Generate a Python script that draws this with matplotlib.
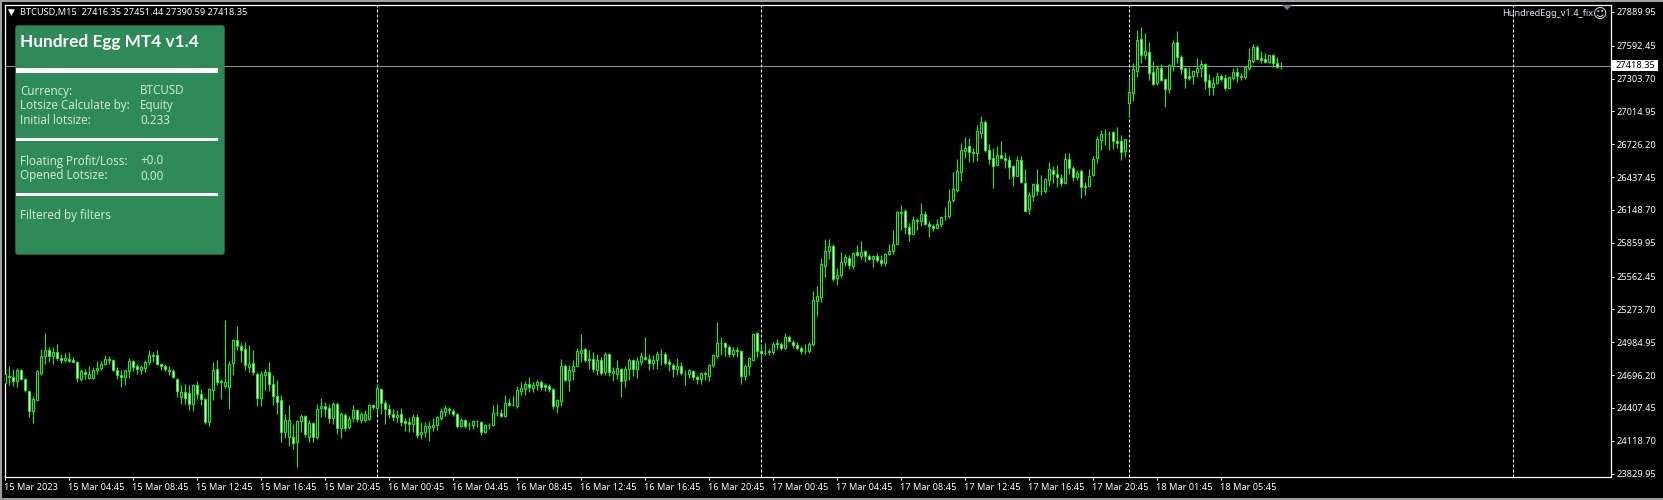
import numpy as np
import matplotlib
matplotlib.use("Agg")
import matplotlib.pyplot as plt
from matplotlib.patches import FancyBboxPatch, Rectangle
from matplotlib.transforms import ScaledTranslation

# M15 bars, one value per bar
opens = [
    24625,24690,24678,24643,24743,24661,24558,24379,24481,24713,
    24866,24919,24860,24895,24848,24831,24834,24825,24813,24666,
    24725,24672,24672,24743,24757,24796,24840,24831,24743,24693,
    24678,24734,24816,24778,24743,24757,24807,24875,24875,24796,
    24778,24743,24734,24664,24502,24549,24540,24440,24605,24531,
    24487,24282,24567,24752,24640,24596,24590,24801,25001,24954,
    24928,24766,24804,24708,24496,24696,24719,24614,24508,24473,
    24197,24156,24156,24106,24291,24338,24156,24276,24150,24405,
    24426,24408,24320,24443,24235,24349,24238,24317,24390,24305,
    24302,24308,24434,24408,24575,24452,24399,24355,24326,24355,
    24288,24282,24267,24329,24179,24194,24232,24238,24255,24317,
    24370,24402,24382,24355,24244,24297,24255,24255,24288,24282,
    24200,24255,24255,24361,24364,24335,24452,24429,24423,24555,
    24578,24619,24581,24605,24637,24611,24602,24575,24423,24467,
    24772,24652,24731,24775,24893,24925,24840,24840,24737,24825,
    24719,24884,24716,24708,24754,24649,24746,24825,24749,24813,
    24857,24837,24801,24831,24881,24884,24807,24787,24749,24778,
    24710,24705,24734,24678,24661,24716,24684,24784,24860,24978,
    24978,24942,24884,24916,24910,24684,24772,24831,25069,24910,
    24893,24895,24898,24981,24972,24931,25031,24989,24963,24934,
    24907,24907,24972,25347,25383,25656,25788,25835,25550,25576,
    25691,25729,25656,25782,25744,25791,25747,25717,25747,25712,
    25682,25761,25788,25850,26123,26143,26002,25938,26058,26052,
    26117,26029,26011,25990,26026,26096,26096,26234,26322,26484,
    26669,26707,26657,26651,26827,26918,26678,26610,26545,26628,
    26610,26592,26534,26449,26584,26390,26158,26272,26381,26319,
    26316,26413,26504,26469,26434,26387,26601,26522,26437,26487,
    26363,26360,26457,26607,26763,26813,26821,26836,26751,26751,
    26669,27091,27179,27373,27649,27514,27535,27359,27267,27394,
    27297,27215,27414,27623,27491,27394,27323,27326,27364,27400,
    27429,27288,27232,27262,27323,27306,27223,27311,27358,27323,
    27320,27400,27458,27579,27482,27473,27449,27508,27438,27416.35,
]
highs = [
    24722,24772,24752,24757,24746,24672,24560,24508,24737,24928,
    25066,24942,24942,24966,24884,24890,24898,24854,24816,24752,
    24752,24772,24766,24816,24816,24869,24860,24834,24766,24737,
    24743,24846,24831,24796,24781,24825,24913,24898,24913,24801,
    24790,24772,24752,24672,24605,24614,24605,24619,24640,24575,
    24496,24581,24810,24825,24658,25177,24819,25016,25124,24978,
    24986,24957,24919,24722,24731,24752,24810,24693,24649,24517,
    24355,24437,24267,24297,24355,24349,24297,24282,24443,24496,
    24458,24443,24458,24458,24370,24361,24340,24429,24399,24370,
    24385,24443,24443,24619,24584,24478,24443,24399,24390,24408,
    24320,24326,24355,24355,24282,24282,24291,24320,24340,24408,
    24429,24414,24399,24361,24320,24311,24282,24302,24302,24288,
    24267,24273,24429,24443,24399,24517,24493,24508,24596,24634,
    24640,24678,24634,24655,24649,24625,24614,24584,24487,24840,
    24790,24781,24825,24937,25054,24937,24913,24898,24884,24854,
    24898,24890,24766,24825,24760,24772,24848,24840,24854,24898,
    25031,24884,24869,24907,24928,24898,24840,24801,24848,24810,
    24737,24752,24743,24693,24722,24731,24796,24884,25160,25031,
    24986,24957,24942,24942,24919,24796,24854,25066,25075,24972,
    24978,24928,24986,25016,24986,25069,25045,25001,24986,24948,
    24972,24986,25433,25477,25723,25891,25891,25847,25638,25776,
    25759,25750,25782,25838,25873,25797,25759,25756,25767,25750,
    25770,25847,25970,26137,26190,26161,26032,26093,26079,26208,
    26137,26049,26023,26067,26093,26172,26331,26481,26595,26736,
    26789,26783,26698,26895,26974,26939,26727,26695,26710,26754,
    26657,26622,26542,26622,26622,26513,26310,26390,26513,26454,
    26434,26569,26534,26548,26469,26648,26648,26534,26498,26513,
    26399,26507,26622,26798,26851,26860,26842,26842,26877,26807,
    26777,27320,27438,27731,27755,27708,27629,27458,27423,27429,
    27303,27429,27643,27723,27511,27397,27408,27373,27482,27467,
    27438,27344,27320,27364,27344,27344,27326,27394,27403,27350,
    27414,27570,27605,27599,27546,27526,27511,27517,27491,27451.44,
]
lows = [
    24584,24605,24596,24590,24649,24546,24326,24273,24478,24693,
    24796,24810,24796,24825,24801,24810,24807,24807,24634,24643,
    24664,24661,24658,24708,24737,24781,24796,24731,24664,24590,
    24605,24672,24731,24702,24702,24722,24781,24810,24781,24737,
    24731,24693,24672,24502,24443,24443,24385,24379,24487,24429,
    24267,24244,24473,24605,24487,24584,24396,24693,24913,24810,
    24737,24722,24693,24420,24420,24561,24555,24437,24355,24106,
    24144,24076,24047,23885,24194,24156,24106,24106,24135,24326,
    24326,24273,24267,24179,24144,24208,24223,24282,24282,24273,
    24282,24297,24399,24355,24355,24267,24320,24291,24282,24252,
    24203,24194,24194,24144,24135,24150,24115,24208,24214,24297,
    24340,24355,24340,24232,24238,24232,24214,24223,24238,24173,
    24185,24223,24244,24340,24326,24326,24420,24420,24408,24517,
    24517,24546,24546,24561,24561,24555,24546,24399,24361,24420,
    24643,24555,24649,24775,24810,24810,24752,24722,24693,24693,
    24693,24684,24643,24664,24502,24590,24649,24684,24669,24781,
    24825,24743,24752,24752,24781,24781,24731,24678,24693,24693,
    24608,24672,24649,24614,24619,24649,24643,24766,24848,24869,
    24860,24854,24854,24854,24619,24649,24693,24825,24854,24819,
    24869,24869,24884,24928,24913,24928,24986,24934,24913,24884,
    24884,24890,24948,25212,25336,25559,25715,25524,25485,25559,
    25653,25626,25626,25741,25715,25688,25712,25644,25688,25653,
    25653,25750,25759,25847,25970,25935,25873,25935,25970,26005,
    26017,25908,25961,25990,25996,26058,26076,26217,26308,26402,
    26607,26569,26569,26578,26783,26660,26551,26340,26542,26604,
    26519,26419,26357,26446,26390,26137,26111,26225,26278,26278,
    26296,26360,26384,26352,26360,26375,26469,26402,26410,26252,
    26284,26357,26446,26560,26675,26719,26675,26689,26695,26587,
    26616,26968,27106,27320,27438,27473,27291,27247,27247,27282,
    27056,27179,27373,27438,27344,27220,27291,27256,27314,27314,
    27212,27159,27159,27256,27282,27203,27220,27291,27270,27291,
    27303,27379,27444,27473,27438,27438,27444,27408,27400,27390.59,
]
closes = [
    24702,24678,24643,24737,24661,24561,24379,24487,24728,24866,
    24919,24866,24901,24843,24831,24846,24822,24813,24669,24728,
    24708,24705,24743,24760,24796,24840,24831,24743,24696,24678,
    24737,24816,24766,24749,24763,24807,24869,24866,24793,24778,
    24749,24731,24678,24555,24549,24499,24440,24611,24526,24484,
    24282,24575,24743,24634,24634,24634,24796,25001,24954,24913,
    24784,24796,24722,24496,24708,24719,24614,24511,24461,24194,
    24297,24302,24097,24296,24332,24179,24279,24150,24402,24426,
    24396,24320,24440,24235,24355,24232,24314,24390,24308,24355,
    24355,24434,24417,24584,24449,24396,24355,24326,24346,24282,
    24273,24267,24326,24173,24200,24244,24244,24258,24326,24376,
    24408,24390,24355,24244,24302,24252,24261,24288,24291,24200,
    24258,24261,24364,24367,24335,24452,24432,24434,24561,24584,
    24619,24590,24611,24634,24590,24590,24575,24423,24473,24772,
    24649,24737,24772,24904,24919,24825,24825,24749,24825,24713,
    24884,24719,24728,24760,24646,24746,24825,24749,24819,24866,
    24837,24801,24831,24884,24884,24801,24790,24749,24778,24713,
    24708,24737,24678,24661,24716,24702,24787,24869,24981,24981,
    24942,24884,24919,24910,24687,24772,24843,25054,24907,24893,
    24890,24907,24972,24969,24931,25033,24995,24960,24934,24910,
    24904,24972,25353,25389,25670,25791,25829,25544,25579,25694,
    25738,25665,25773,25753,25782,25744,25717,25747,25712,25682,
    25764,25791,25853,26134,26134,26002,25938,26064,26055,26117,
    26026,26011,25993,26029,26090,26099,26231,26337,26495,26672,
    26698,26660,26651,26839,26918,26678,26598,26537,26633,26607,
    26592,26528,26449,26586,26396,26140,26284,26381,26316,26316,
    26419,26513,26466,26437,26387,26601,26519,26440,26478,26352,
    26352,26451,26601,26769,26821,26821,26813,26751,26739,26660,
    26769,27182,27385,27643,27508,27543,27356,27256,27394,27291,
    27215,27420,27614,27491,27391,27311,27311,27367,27400,27429,
    27285,27232,27262,27323,27303,27223,27314,27358,27329,27320,
    27402,27464,27579,27479,27470,27449,27508,27444,27408,27418.35,
]

time_labels = ["15 Mar 2023", "15 Mar 04:45", "15 Mar 08:45", "15 Mar 12:45", "15 Mar 16:45",
               "15 Mar 20:45", "16 Mar 00:45", "16 Mar 04:45", "16 Mar 08:45", "16 Mar 12:45",
               "16 Mar 16:45", "16 Mar 20:45", "17 Mar 00:45", "17 Mar 04:45", "17 Mar 08:45",
               "17 Mar 12:45", "17 Mar 16:45", "17 Mar 20:45", "18 Mar 01:45", "18 Mar 05:45"]
price_labels = ["27889.95", "27592.45", "27303.70", "27014.95", "26726.20", "26437.45", "26148.70",
                "25859.95", "25562.45", "25273.70", "24984.95", "24696.20", "24407.45", "24118.70",
                "23829.95"]
separator_bars = [93, 189, 281, 377]
bid = 27418.35

GREEN = "#00ff00"
W, H = 1663, 500
TICK_FS = 6.6
plt.rcParams["font.family"] = ["Noto Sans", "DejaVu Sans"]

fig = plt.figure(figsize=(W / 100, H / 100), dpi=100, facecolor="black")

# chart window, pixel box of the terminal
left, right, top, bottom = 4.5, 1610.5, 4.5, 477
ax = fig.add_axes([left / W, 1 - bottom / H, (right - left) / W, (bottom - top) / H], facecolor="black")
ax.set_xlim((left - 5.33) / 4, (right - 5.33) / 4)
ax.set_ylim(23799.8, 27955.9)

ax.axhline(bid, color="#8c9196", lw=0.8, zorder=1)
for b in separator_bars:
    ax.axvline(b, color="white", lw=0.72, dashes=(3, 2), zorder=1.5)

x = np.arange(len(opens))
opens_a, closes_a = np.array(opens), np.array(closes)
ax.vlines(x, lows, highs, color=GREEN, lw=0.72, zorder=2)
body_lo = np.minimum(opens_a, closes_a)
body_h = np.abs(closes_a - opens_a)
fills = ["black" if c >= o else "white" for o, c in zip(opens, closes)]
ax.bar(x, body_h, width=0.5, bottom=body_lo, color=fills, edgecolor=GREEN, linewidth=0.72, zorder=3)

for s in ax.spines.values():
    s.set_color("white")
    s.set_linewidth(0.9)
ax.yaxis.tick_right()
ax.set_yticks([float(p) for p in price_labels], price_labels)
ax.set_xticks(np.arange(len(time_labels)) * 16, time_labels, ha="left")
ax.tick_params(axis="both", colors="white", length=2.5, width=0.72, labelsize=TICK_FS)
ax.tick_params(axis="y", pad=1.5)
ax.tick_params(axis="x", pad=2)
for lab in ax.get_xticklabels():
    lab.set_transform(lab.get_transform() + ScaledTranslation(-1 / 100, 0, fig.dpi_scale_trans))

# overlay in pixel coords for the panel and terminal furniture
ov = fig.add_axes([0, 0, 1, 1], facecolor="none")
ov.set_xlim(0, W)
ov.set_ylim(H, 0)
ov.axis("off")

ov.add_patch(Rectangle((0, 0), W, 2, color="#a0a0a0", lw=0))
ov.add_patch(Rectangle((0, 0), 2, H, color="#a0a0a0", lw=0))
ov.add_patch(Rectangle((0, 498), W, 2, color="#a0a0a0", lw=0))

ov.text(7.5, 12.5, "▼", color="white", fontsize=6.5, va="center", family="DejaVu Sans")
ov.text(20, 12.5, "BTCUSD,M15  27416.35 27451.44 27390.59 27418.35", color="white", fontsize=TICK_FS, va="center")
ov.fill([1282, 1292, 1287], [5, 5, 10], color="#708090", lw=0)

ov.text(1593, 14, "HundredEgg_v1.4_fix", color="#dfe8f5", fontsize=TICK_FS, va="center", ha="right")
ov.text(1600, 14, "☺", color="#e4ecf8", fontsize=10, va="center", ha="center", family="DejaVu Sans")

# bid price tag
ov.add_patch(Rectangle((1612, 60), 46, 11, color="white", lw=0, zorder=5))
ov.text(1616, 65.5, "27418.35", color="black", fontsize=TICK_FS, va="center", zorder=6)

# info panel
ov.add_patch(FancyBboxPatch((16, 26), 208, 228, boxstyle="round,pad=0,rounding_size=2",
                            facecolor="#2e8b57", edgecolor="#2e8b57", lw=1, zorder=4))
for y0, y1 in [(68, 73), (138, 141), (193, 196)]:
    ov.add_patch(Rectangle((16, y0), 202, y1 - y0, color="white", lw=0, zorder=5))
ov.text(20.5, 42, "Hundred Egg MT4 v1.4", color="white", fontsize=12.4, weight="bold", family="Lato",
        va="center", zorder=6)
panel_rows = [(91, "Currency:", "BTCUSD"), (106, "Lotsize Calculate by:", "Equity"), (121, "Initial lotsize:", "0.233"),
              (161, "Floating Profit/Loss:", "+0.0"), (176, "Opened Lotsize:", "0.00"), (216, "Filtered by filters", "")]
for y, name, val in panel_rows:
    ov.text(20.5, y, name, color="#dcebdc", fontsize=8.4, family="Open Sans", va="center", zorder=6)
    ov.text(140, y, val, color="#dcebdc", fontsize=8.4, family="Open Sans", va="center", zorder=6)

fig.savefig("out.png", dpi=100, facecolor="black")
